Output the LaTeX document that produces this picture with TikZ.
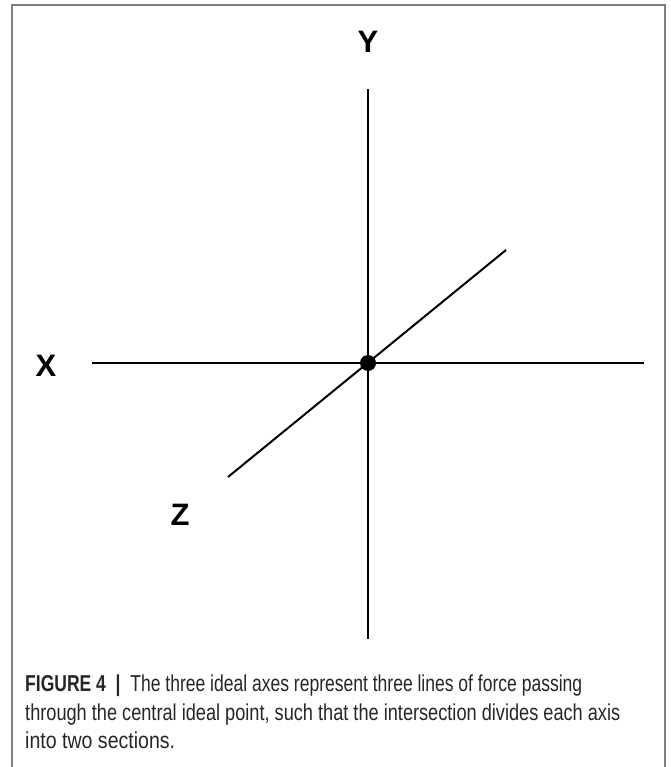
\documentclass[tikz,border=0pt]{standalone}
\usepackage{graphicx}
\usepackage{fontspec}
\setmainfont{Liberation Sans}
\newfontfamily\capfont[FakeStretch=0.85]{Liberation Sans}
\begin{document}
\begin{tikzpicture}[x=1pt,y=-1pt,
  axisline/.style={line width=2pt, black},
  frameline/.style={line width=1.5pt, black!50},
  lbl/.style={font=\fontsize{31}{31}\selectfont\bfseries, inner sep=0pt},
  capline/.style={anchor=base west, inner sep=0pt, font=\capfont\fontsize{23}{28}\selectfont, text=black!85}]
\useasboundingbox (0,0) rectangle (670,767);
\draw[frameline] (12,767) -- (12,5) -- (665,5) -- (665,767);
\coordinate (ytop) at (368,89);
\coordinate (ybot) at (368,639);
\coordinate (xl) at (92,363);
\coordinate (xr) at (644,363);
\coordinate (zl) at (228,477);
\coordinate (zr) at (506,250);
\draw[axisline] (ytop) -- (ybot);
\draw[axisline] (xl) -- (xr);
\draw[axisline] (zl) -- (zr);
\node[circle, fill=black, minimum size=16pt, inner sep=0pt] (c) at (368,363) {};
\node[lbl] (Y) at (368,42) {Y};
\node[lbl] (X) at (46,366) {X};
\node[lbl] (Z) at (180,515) {Z};
\node[capline] (cap1) at (25,691) {\resizebox{557pt}{\height}{\textbf{FIGURE 4}\ \ \textbf{|}\ \ The three ideal axes represent three lines of force passing}};
\node[capline] (cap2) at (25,720) {\resizebox{595pt}{\height}{through the central ideal point, such that the intersection divides each axis}};
\node[capline] (cap3) at (25,748) {into two sections.};
\end{tikzpicture}
\end{document}
